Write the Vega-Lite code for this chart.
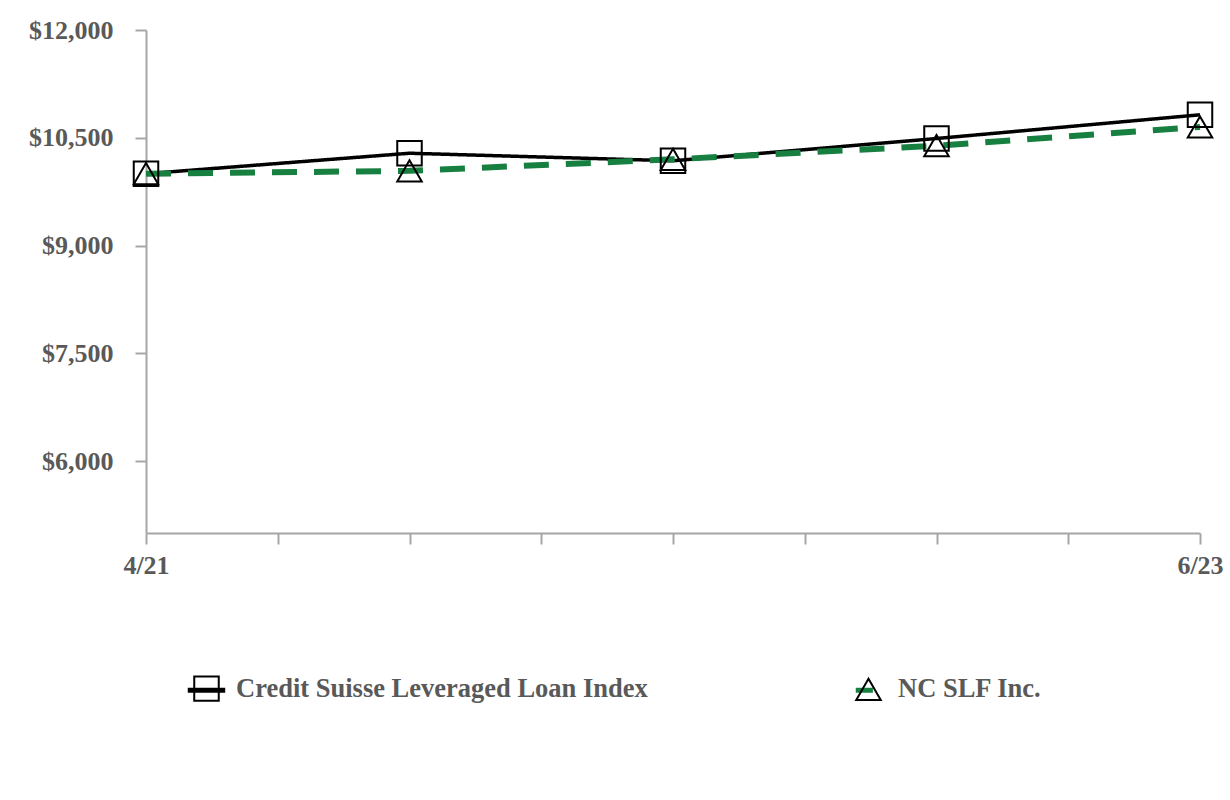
{
  "$schema": "https://vega.github.io/schema/vega-lite/v6.json",
  "width": 1054,
  "height": 503,
  "autosize": {"type": "none"},
  "padding": {"left": 146, "top": 30, "right": 30, "bottom": 267},
  "background": "white",
  "data": {
    "values": [
      {"period": 0, "date": "4/21", "series": "Credit Suisse Leveraged Loan Index", "value": 10000},
      {"period": 1, "date": "", "series": "Credit Suisse Leveraged Loan Index", "value": 10285},
      {"period": 2, "date": "", "series": "Credit Suisse Leveraged Loan Index", "value": 10180},
      {"period": 3, "date": "", "series": "Credit Suisse Leveraged Loan Index", "value": 10490},
      {"period": 4, "date": "6/23", "series": "Credit Suisse Leveraged Loan Index", "value": 10820},
      {"period": 0, "date": "4/21", "series": "NC SLF Inc.", "value": 10000},
      {"period": 1, "date": "", "series": "NC SLF Inc.", "value": 10040},
      {"period": 2, "date": "", "series": "NC SLF Inc.", "value": 10200},
      {"period": 3, "date": "", "series": "NC SLF Inc.", "value": 10390},
      {"period": 4, "date": "6/23", "series": "NC SLF Inc.", "value": 10650}
    ]
  },
  "config": {
    "view": {"stroke": null},
    "axis": {
      "grid": false,
      "domainColor": "#a6a6a6",
      "domainWidth": 2,
      "tickColor": "#a6a6a6",
      "tickWidth": 2,
      "tickSize": 11,
      "labelFont": "Liberation Serif",
      "labelFontWeight": "bold",
      "labelFontSize": 26,
      "labelColor": "#595959"
    },
    "legend": {
      "orient": "none",
      "legendX": 47,
      "legendY": 645,
      "direction": "horizontal",
      "padding": 0,
      "title": null,
      "symbolSize": 600,
      "labelFont": "Liberation Serif",
      "labelFontWeight": "bold",
      "labelFontSize": 26.5,
      "labelColor": "#595959",
      "labelOffset": 16,
      "columnPadding": 204,
      "labelLimit": 0
    }
  },
  "encoding": {
    "x": {
      "field": "period",
      "type": "quantitative",
      "scale": {"domain": [0, 4], "nice": false, "zero": false},
      "axis": {
        "title": null,
        "values": [0, 0.5, 1, 1.5, 2, 2.5, 3, 3.5, 4],
        "labelExpr": "datum.value == 0 ? '4/21' : datum.value == 4 ? '6/23' : ''",
        "labelPadding": 8,
        "labelFlush": false,
        "labelOverlap": false
      }
    },
    "y": {
      "field": "value",
      "type": "quantitative",
      "scale": {"domain": [5000, 12000], "nice": false, "zero": false},
      "axis": {
        "title": null,
        "values": [6000, 7500, 9000, 10500, 12000],
        "format": "$,.0f",
        "labelPadding": 22
      }
    }
  },
  "layer": [
    {
      "mark": {"type": "line"},
      "encoding": {
        "color": {
          "field": "series",
          "type": "nominal",
          "scale": {
            "domain": ["Credit Suisse Leveraged Loan Index", "NC SLF Inc."],
            "range": ["#000000", "#178040"]
          },
          "legend": {
            "legendX": 39,
            "symbolType": "M-1,0H1",
            "symbolStrokeWidth": 5,
            "symbolFillColor": "transparent",
            "labelExpr": "''",
            "labelOffset": 0,
            "columnPadding": 609,
            "encode": {
              "symbols": {
                "update": {
                  "shape": {"signal": "datum.value == 'NC SLF Inc.' ? 'M-1,0H0.4' : 'M-1,0H2.06'"}
                }
              }
            }
          }
        },
        "strokeDash": {
          "field": "series",
          "type": "nominal",
          "scale": {"range": [[1, 0], [25, 17]]},
          "legend": null
        },
        "strokeWidth": {
          "field": "series",
          "type": "nominal",
          "scale": {"range": [3.5, 6]},
          "legend": null
        }
      }
    },
    {
      "mark": {"type": "point", "filled": false, "stroke": "black", "strokeWidth": 2, "size": 600, "opacity": 1},
      "encoding": {
        "shape": {
          "field": "series",
          "type": "nominal",
          "scale": {"range": ["square", "triangle-up"]},
          "legend": {
            "symbolStrokeColor": "black",
            "symbolStrokeWidth": 2,
            "symbolFillColor": "transparent"
          }
        }
      }
    }
  ]
}
